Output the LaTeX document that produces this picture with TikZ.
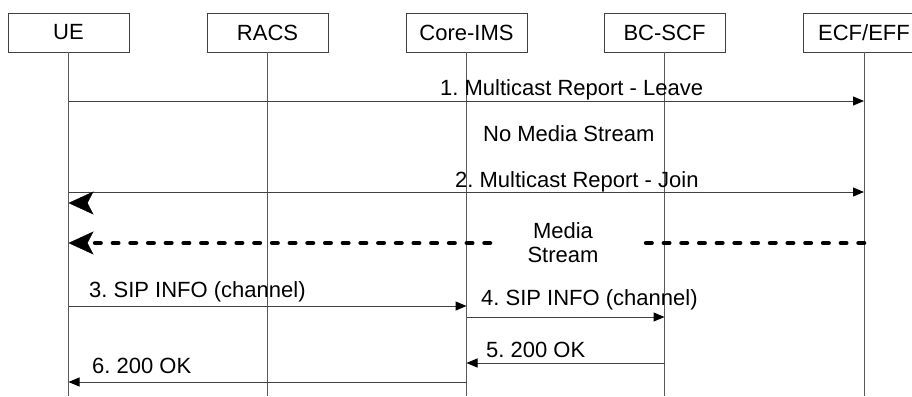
\documentclass[tikz,border=0pt]{standalone}
\usepackage{fontspec}
\setmainfont{Liberation Sans}
\usetikzlibrary{arrows.meta}
\definecolor{lifegray}{rgb}{0.35,0.35,0.35}
\definecolor{msggray}{rgb}{0.25,0.25,0.25}
\frenchspacing

\begin{document}
\begin{tikzpicture}[x=1pt,y=-1pt,
		ent/.style={draw=msggray,line width=0.9pt,minimum width=121pt,minimum height=39pt,inner sep=0pt,font=\fontsize{22}{24}\selectfont},
		life/.style={color=lifegray,line width=1pt},
		msg/.style={color=msggray,line width=1pt,-{Triangle[length=11pt,width=9pt,color=black]}},
		lbl/.style={anchor=base west,inner sep=0pt,font=\fontsize{22}{24}\selectfont},
		stream/.style={line width=4.5pt,line cap=round,dash pattern=on 5.5pt off 12.2pt},
		bigtip/.style={-{Stealth[length=25pt,width=23pt,inset=6pt,line width=0.4pt]}}]
		\useasboundingbox (0,0) rectangle (912,396);
		% entities and lifelines
		\node[ent] (ue) at (68.5,32.5) {UE};
		\node[ent] (racs) at (267.5,32.5) {RACS};
		\node[ent] (ims) at (466.5,32.5) {Core-IMS};
		\node[ent] (scf) at (664.5,32.5) {BC-SCF};
		\node[ent] (ecf) at (864,32.5) {ECF/EFF};
		\foreach \n in {ue,racs,ims,scf,ecf}
			\draw[life] (\n.south) -- (\n.south |- 0,396);
		% multicast reports
		\draw[msg] (ue |- 0,101) -- (ecf |- 0,101);
		\node[lbl] (l1) at (440,95) {1. Multicast Report - Leave};
		\node[lbl] (nms) at (483,141) {No Media Stream};
		\draw[msg] (ue |- 0,192) -- (ecf |- 0,192);
		\node[lbl] (l2) at (455,187) {2. Multicast Report - Join};
		\coordinate (jn) at (ue |- 0,203);
		\draw[bigtip] ([xshift=19pt]jn) -- (jn);
		% media stream
		\coordinate (sr) at (642,243);
		\coordinate (sl) at (490,243);
		\draw[stream] (ecf |- sr) -- (sr);
		\draw[stream,bigtip] (sl) -- (ue |- sl);
		\node[align=center,inner sep=0pt,font=\fontsize{22}{24}\selectfont] (ms) at (563,243) {Media\\Stream};
		% SIP INFO
		\draw[msg] (ue |- 0,306) -- (ims |- 0,306);
		\node[lbl] (l3) at (89,297) {3. SIP INFO (channel)};
		\draw[msg] (ims |- 0,317) -- (scf |- 0,317);
		\node[lbl] (l4) at (481,305) {4. SIP INFO (channel)};
		\draw[msg] (scf |- 0,363) -- (ims |- 0,363);
		\node[lbl] (l5) at (486,357) {5. 200 OK};
		\draw[msg] (ims |- 0,382) -- (ue |- 0,382);
		\node[lbl] (l6) at (92,373) {6. 200 OK};
\end{tikzpicture}
\end{document}
